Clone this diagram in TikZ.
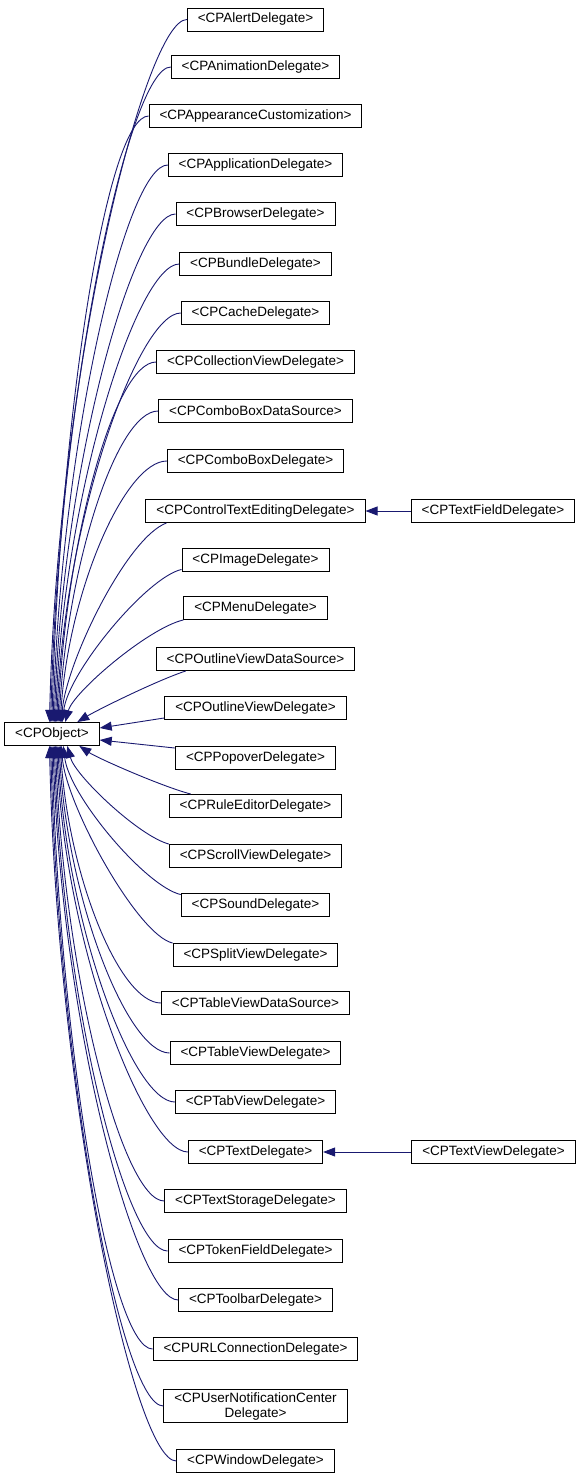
\documentclass[tikz,border=0pt]{standalone}
\usepackage{fontspec}
\setmainfont{Liberation Sans}
\usetikzlibrary{arrows.meta,positioning}
\definecolor{cEdge}{RGB}{25,25,112}

\begin{document}
\begin{tikzpicture}[x=1pt,y=-1pt,
   cls/.style={draw,line width=0.9pt,inner xsep=10.5pt,inner ysep=3pt,minimum height=23pt,align=center,
     font=\fontsize{13.5}{15}\selectfont},
   inh/.style={draw=cEdge,line width=0.9pt,-{Triangle[length=12pt,width=9pt]}}]
  \useasboundingbox (0,0) rectangle (580,1480);
  % base protocol
  \node[cls] (obj) at (52,734) {<CPObject>};
  % protocols, top to bottom
  \foreach \i/\y/\txt in {1/19.5/CPAlertDelegate,2/67/CPAnimationDelegate,3/116/CPAppearanceCustomization,
      4/165/CPApplicationDelegate,5/214/CPBrowserDelegate,6/264/CPBundleDelegate,7/313/CPCacheDelegate,
      8/362/CPCollectionViewDelegate,9/411/CPComboBoxDataSource,10/461/CPComboBoxDelegate,
      11/511/CPControlTextEditingDelegate,12/560/CPImageDelegate,13/608/CPMenuDelegate,
      14/659/CPOutlineViewDataSource,15/708/CPOutlineViewDelegate,16/758/CPPopoverDelegate,
      17/806/CPRuleEditorDelegate,18/856/CPScrollViewDelegate,19/905/CPSoundDelegate,
      20/955/CPSplitViewDelegate,21/1003/CPTableViewDataSource,22/1053/CPTableViewDelegate,
      23/1102/CPTabViewDelegate,24/1152/CPTextDelegate,25/1201/CPTextStorageDelegate,
      26/1251/CPTokenFieldDelegate,27/1300/CPToolbarDelegate,28/1349/CPURLConnectionDelegate,
      29/1406/{CPUserNotificationCenter\\Delegate},30/1461/CPWindowDelegate}
    \node[cls] (d\i) at (255.5,\y) {<\txt>};
  % sub protocols
  \node[cls] (tf) at (493,511) {<CPTextFieldDelegate>};
  \node[cls] (tv) at (493.5,1152) {<CPTextViewDelegate>};

  % long edges, upper half
  \foreach \i/\y in {1/19.5,2/67,3/116,4/165,5/214,6/264,7/313,8/362,9/411,10/461}{
    \pgfmathsetmacro\t{44+1.2*\i}
    \draw[inh] (d\i.west) .. controls +(-42,0) and +(8,{-(722-\y)/2}) .. ([xshift=\t pt]obj.north west);
  }
  % long edges, lower half
  \foreach \i/\y in {21/1003,22/1053,23/1102,24/1152,25/1201,26/1251,27/1300,28/1349,29/1406,30/1461}{
    \pgfmathsetmacro\t{44+1.2*(31-\i)}
    \draw[inh] (d\i.west) .. controls +(-42,0) and +(8,{(\y-746)/2}) .. ([xshift=\t pt]obj.south west);
  }
  % short edges
  \draw[inh] ([xshift=21pt]d11.south west) .. controls +(-40,15) and +(5,-60) .. ([xshift=57pt]obj.north west);
  \draw[inh] ([yshift=2.5pt]d12.south west) .. controls +(-35,8) and +(6,-50) .. ([xshift=58pt]obj.north west);
  \draw[inh] (d13.south west) .. controls +(-35,8) and +(8,-30) .. ([xshift=61pt]obj.north west);
  \draw[inh] ([xshift=30pt]d14.south west) .. controls +(-30,10) and +(20,-12) .. ([xshift=73pt]obj.north west);
  \draw[inh] ([yshift=2pt]d15.south west) -- ([yshift=6pt]obj.east);
  \draw[inh] ([yshift=-2pt]d16.north west) -- ([yshift=-6pt]obj.east);
  \draw[inh] ([xshift=22pt]d17.north west) .. controls +(-30,-8) and +(18,12) .. ([xshift=75pt]obj.south west);
  \draw[inh] (d18.north west) .. controls +(-30,-8) and +(8,30) .. ([xshift=63pt]obj.south west);
  \draw[inh] ([yshift=-1.5pt]d19.north west) .. controls +(-35,-8) and +(6,50) .. ([xshift=59pt]obj.south west);
  \draw[inh] (d20.north west) .. controls +(-35,-8) and +(5,60) .. ([xshift=57pt]obj.south west);
  \draw[inh] (tf) -- (d11);
  \draw[inh] (tv) -- (d24);
\end{tikzpicture}
\end{document}
